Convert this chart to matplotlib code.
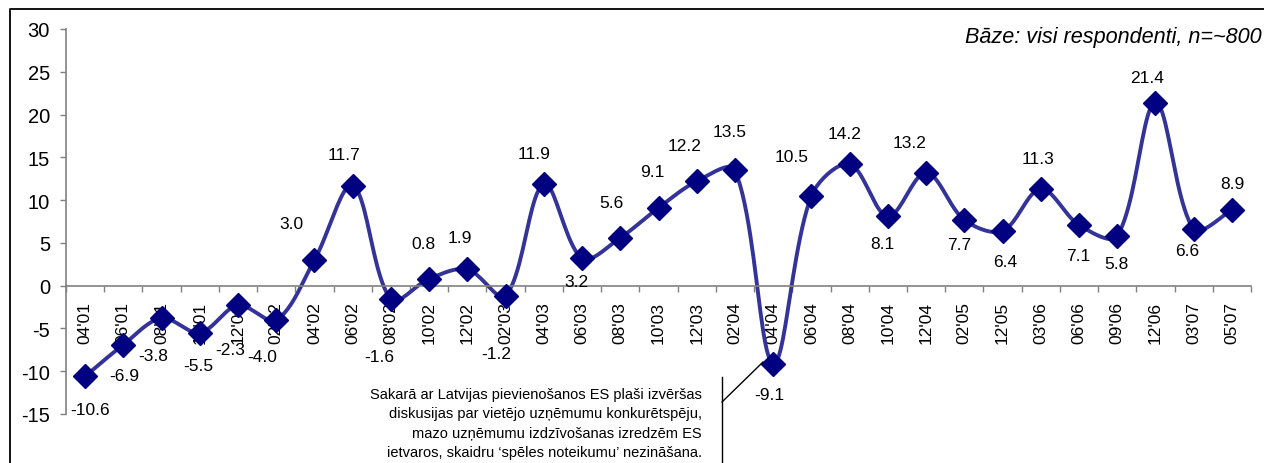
import numpy as np
import matplotlib.pyplot as plt
from matplotlib.lines import Line2D

plt.rcParams['font.family'] = ['Liberation Sans', 'DejaVu Sans']
plt.rcParams['axes.unicode_minus'] = False

periods = ["04'01", "06'01", "08'01", "10'01", "12'01", "02'02", "04'02", "06'02",
           "08'02", "10'02", "12'02", "02'03", "04'03", "06'03", "08'03", "10'03",
           "12'03", "02'04", "04'04", "06'04", "08'04", "10'04", "12'04", "02'05",
           "12'05", "03'06", "06'06", "09'06", "12'06", "03'07", "05'07"]
index = [-10.6, -6.9, -3.8, -5.5, -2.3, -4.0, 3.0, 11.7, -1.6, 0.8, 1.9, -1.2,
         11.9, 3.2, 5.6, 9.1, 12.2, 13.5, -9.1, 10.5, 14.2, 8.1, 13.2, 7.7,
         6.4, 11.3, 7.1, 5.8, 21.4, 6.6, 8.9]
# where each value label sits relative to its point, in pixels (dx, dy up)
label_offsets = [(5, -33), (1, -31), (-8, -37), (-1, -33), (-8, -44), (-14, -37),
                 (-23, 36), (-9, 31), (-12, -57), (-6, 35), (-8, 32), (-9, -58),
                 (-10, 30), (-6, -23), (-9, 35), (-6, 36), (-12, 36), (-5, 39),
                 (-4, -31), (-20, 39), (-5, 31), (-5, -27), (-17, 30), (-5, -25),
                 (3, -31), (-3, 30), (-1, -31), (-1, -27), (-8, 25), (-6, -21),
                 (0, 26)]
note = ("Sakarā ar Latvijas pievienošanos ES plaši izvēršas\n"
        "diskusijas par vietējo uzņēmumu konkurētspēju,\n"
        "mazo uzņēmumu izdzīvošanas izredzēm ES\n"
        "ietvaros, skaidru ‘spēles noteikumu’ nezināšana.")

W, H = 1264, 464
AX_L, AX_R, AX_T, AX_B = 66, 1251, 30, 415
YMIN, YMAX = -15, 30


def smooth(x, y, sx, sy, steps=24):
    # Bezier smoothing in screen units; tangent lengths follow the chord lengths
    p = np.column_stack([np.asarray(x, float) * sx, np.asarray(y, float) * sy])
    n = len(p)
    out = []
    t = np.linspace(0, 1, steps)[:, None]
    for i in range(n - 1):
        a, b = p[i], p[i + 1]
        if i == 0:
            c1 = a + (b - a) / 6
        else:
            lp = np.hypot(*(a - p[i - 1]))
            ln = np.hypot(*(b - a))
            c1 = a + (b - p[i - 1]) * ln / (lp + ln) / 3
        if i + 1 == n - 1:
            c2 = b - (b - a) / 6
        else:
            lp = np.hypot(*(b - a))
            ln = np.hypot(*(p[i + 2] - b))
            c2 = b - (p[i + 2] - a) * lp / (lp + ln) / 3
        seg = (1 - t) ** 3 * a + 3 * (1 - t) ** 2 * t * c1 + 3 * (1 - t) * t ** 2 * c2 + t ** 3 * b
        out.append(seg if i == 0 else seg[1:])
    out = np.vstack(out)
    return out[:, 0] / sx, out[:, 1] / sy


fig = plt.figure(figsize=(W / 100, H / 100), dpi=100)
ax = fig.add_axes([AX_L / W, 1 - AX_B / H, (AX_R - AX_L) / W, (AX_B - AX_T) / H])

x = np.arange(len(periods))
px_x = (AX_R - AX_L) / len(periods)
px_y = (AX_B - AX_T) / (YMAX - YMIN)
cx, cy = smooth(x, index, px_x, px_y)
ax.plot(cx, cy, color='#333399', lw=2.8, zorder=2, solid_capstyle='round')
ax.plot(x, index, ls='none', marker='D', ms=12.5, color='#000080', zorder=3)

for xi, v, (dx, dy) in zip(x, index, label_offsets):
    ax.annotate(f'{v:.1f}', (xi, v), xytext=(dx, dy), textcoords='offset pixels',
                ha='center', va='center', fontsize=12.5)

ax.set_xlim(-0.5, len(periods) - 0.5)
ax.set_ylim(YMIN, YMAX)
ax.set_yticks(np.arange(YMIN, YMAX + 1, 5))
ax.set_yticklabels([str(v) for v in range(YMIN, YMAX + 1, 5)])
ax.set_xticks(np.arange(-0.5, len(periods), 1))
ax.set_xticklabels([])
ax.set_xticks(x, minor=True)
ax.set_xticklabels(periods, minor=True)

ax.spines['top'].set_visible(False)
ax.spines['right'].set_visible(False)
ax.spines['bottom'].set_position(('data', 0))
for s in ('left', 'bottom'):
    ax.spines[s].set_color('#808080')
    ax.spines[s].set_linewidth(1.2)
ax.tick_params(axis='y', length=4.5, width=1, color='#808080', pad=7, labelsize=14.5)
ax.tick_params(axis='x', which='major', direction='out', length=4.5, width=1, color='#808080')
ax.tick_params(axis='x', which='minor', length=0, pad=11, labelsize=12.5, labelrotation=90)

fig.text(1262 / W, 1 - 37 / H, 'Bāze: visi respondenti, n=~800', ha='right', va='center',
         style='italic', fontsize=15.6)
fig.text(702 / W, 1 - 424 / H, note, ha='right', va='center', multialignment='right',
         fontsize=10.5, linespacing=1.5)

fig.add_artist(Line2D([722 / W, 722 / W], [1 - 378 / H, 0], transform=fig.transFigure,
                      color='black', lw=1))
fig.add_artist(Line2D([722 / W, 763 / W], [1 - 403 / H, 1 - 363 / H], transform=fig.transFigure,
                      color='black', lw=1))
# chart frame
fig.add_artist(Line2D([10 / W, 10 / W, 1], [0, 1 - 10 / H, 1 - 10 / H], transform=fig.transFigure,
                      color='black', lw=1.3))

fig.savefig('out.png', dpi=100)
